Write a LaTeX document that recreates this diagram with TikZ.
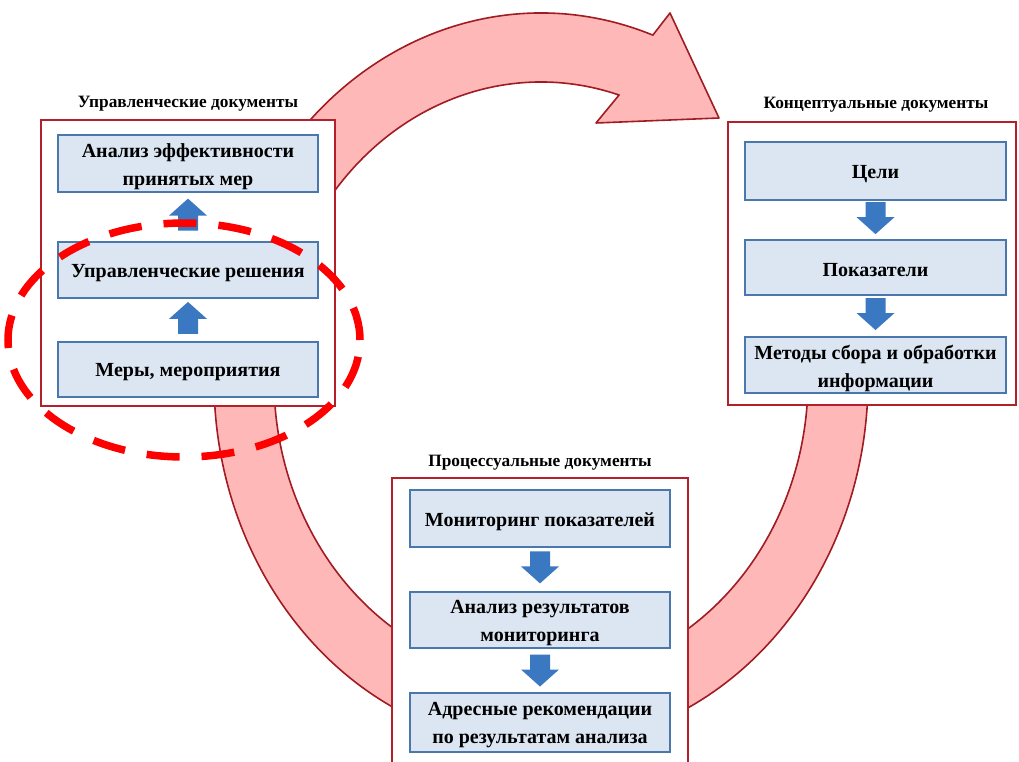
\documentclass[tikz,border=0pt]{standalone}
\usepackage{fontspec}
\setmainfont{Liberation Serif}
\usetikzlibrary{calc}
\definecolor{bandfill}{HTML}{FFB8B8}
\definecolor{bandline}{HTML}{A01C22}
\definecolor{outerline}{HTML}{B3202A}
\definecolor{innerfill}{HTML}{DCE6F2}
\definecolor{innerline}{HTML}{4A78AC}
\definecolor{arrowblue}{HTML}{3B78C2}
\definecolor{dashred}{HTML}{FF0000}
\tikzset{
  band/.style={fill=bandfill, draw=bandline, line width=1.6pt, line join=round},
  outerbox/.style={draw=outerline, line width=2.6pt, fill=white, inner sep=0pt},
  innerbox/.style={draw=innerline, line width=2.8pt, fill=innerfill, inner sep=0pt,
    minimum width=260pt},
  boxtext/.style={label={[inner sep=0pt, yshift=-3pt, align=center,
    font=\fontsize{20}{28}\selectfont\bfseries]center:{#1}}},
  doctitle/.style={inner sep=0pt, font=\fontsize{17.3}{19}\selectfont\bfseries},
  flowpic/.pic={\fill[arrowblue] (-10,-16) -- (-10,-1) -- (-19,-1) -- (0,16)
     -- (19,-1) -- (10,-1) -- (10,-16) -- cycle;},
  highlight/.style={draw=dashred, line width=7.5pt, dash pattern=on 33pt off 22pt}
}
\begin{document}
\begin{tikzpicture}[x=1pt,y=1pt]
\useasboundingbox (0,-762) rectangle (1019,0);
\clip (0,-762) rectangle (1019,0);
\coordinate (c) at (541,-380);
% ring bands
\path[band] ($(c)+(150:327 and 367)$) arc[start angle=150,end angle=70,x radius=327,y radius=367]
  -- (670,-13) -- (719,-118) -- (596,-123)
  -- ($(c)+(73:267 and 298)$) arc[start angle=73,end angle=150,x radius=267,y radius=298] -- cycle;
\path[band] ($(c)+(180:327 and 367)$) arc[start angle=180,end angle=245,x radius=327,y radius=367]
  -- ($(c)+(245:267 and 298)$) arc[start angle=245,end angle=180,x radius=267,y radius=298] -- cycle;
\path[band] ($(c)+(0:327 and 367)$) arc[start angle=0,end angle=-65,x radius=327,y radius=367]
  -- ($(c)+(-65:267 and 298)$) arc[start angle=-65,end angle=0,x radius=267,y radius=298] -- cycle;
% outer boxes
\node[outerbox, minimum width=294pt, minimum height=286pt] (L) at (188,-263) {};
\node[outerbox, minimum width=288pt, minimum height=283pt] (R) at (872,-263.5) {};
\node[outerbox, minimum width=296pt, minimum height=296pt] (B) at (540,-626) {};
% titles
\node[doctitle] (tl) at (188,-104) {Управленческие документы};
\node[doctitle] (tr) at (876,-105) {Концептуальные документы};
\node[doctitle] (tb) at (540,-463) {Процессуальные документы};
% left boxes
\node[innerbox, minimum height=57pt, boxtext={Анализ эффективности\\принятых мер}] (l1) at (188,-163.5) {};
\node[innerbox, minimum height=56pt, boxtext={Управленческие решения}] (l2) at (188,-270) {};
\node[innerbox, minimum height=55pt, boxtext={Меры, мероприятия}] (l3) at (188,-369.5) {};
% right boxes
\node[innerbox, minimum width=261pt, minimum height=58pt, boxtext={Цели}] (r1) at (875.5,-171) {};
\node[innerbox, minimum width=261pt, minimum height=55pt, boxtext={Показатели}] (r2) at (875.5,-267.5) {};
\node[innerbox, minimum width=261pt, minimum height=56pt, boxtext={Методы сбора и обработки\\информации}] (r3) at (875.5,-365) {};
% bottom boxes
\node[innerbox, minimum height=57pt, boxtext={Мониторинг показателей}] (b1) at (540,-518.5) {};
\node[innerbox, minimum height=56pt, boxtext={Анализ результатов\\мониторинга}] (b2) at (540,-620) {};
\node[innerbox, minimum height=59pt, boxtext={Адресные рекомендации\\по результатам анализа}] (b3) at (540,-722.5) {};
% flow arrows between named boxes
\pic at ($(l2.north)!0.55!(l1.south)$) {flowpic};
\pic at ($(l3.north)!0.55!(l2.south)$) {flowpic};
\pic[rotate=180] at ($(r1.south)!0.45!(r2.north)$) {flowpic};
\pic[rotate=180] at ($(r2.south)!0.45!(r3.north)$) {flowpic};
\pic[rotate=180] at ($(b1.south)!0.45!(b2.north)$) {flowpic};
\pic[rotate=180] at ($(b2.south)!0.5!(b3.north)$) {flowpic};
% highlight
\draw[highlight] (184,-340) ellipse[x radius=176, y radius=117];
\end{tikzpicture}
\end{document}
